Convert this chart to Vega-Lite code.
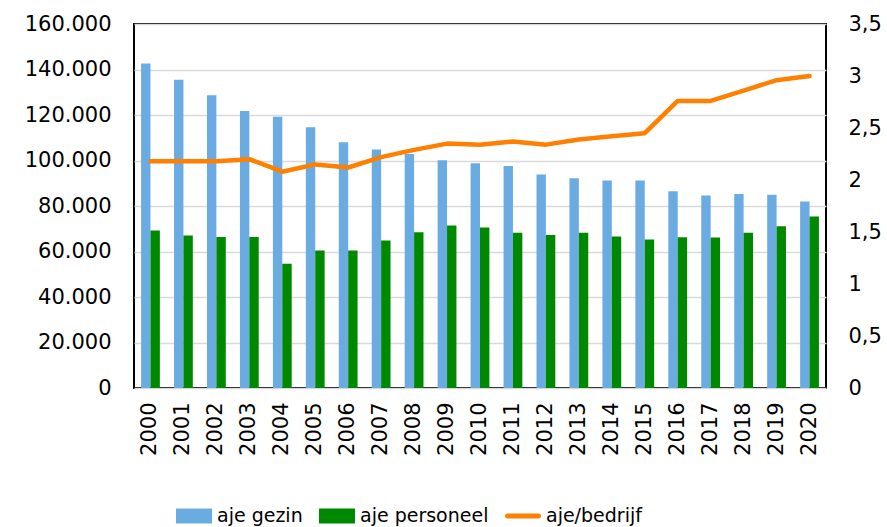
{
  "$schema": "https://vega.github.io/schema/vega-lite/v6.json",
  "width": 692,
  "height": 364,
  "autosize": {"type": "none"},
  "padding": {"left": 134, "top": 24, "right": 61, "bottom": 139},
  "background": "white",
  "config": {
    "locale": {"number": {"decimal": ",", "thousands": ".", "grouping": [3], "currency": ["€", ""]}},
    "font": "DejaVu Sans",
    "view": {"stroke": "#000000", "strokeWidth": 2},
    "axis": {"labelFont": "DejaVu Sans", "labelColor": "#000000", "labelFontSize": 21, "ticks": false, "title": null, "domain": false}
  },
  "data": {
    "values": [
      {"year": "2000", "aje gezin": 142600, "aje personeel": 69200, "bedrijf": 2.18},
      {"year": "2001", "aje gezin": 135500, "aje personeel": 67000, "bedrijf": 2.18},
      {"year": "2002", "aje gezin": 128700, "aje personeel": 66400, "bedrijf": 2.18},
      {"year": "2003", "aje gezin": 121800, "aje personeel": 66400, "bedrijf": 2.2},
      {"year": "2004", "aje gezin": 119200, "aje personeel": 54600, "bedrijf": 2.08},
      {"year": "2005", "aje gezin": 114600, "aje personeel": 60400, "bedrijf": 2.15},
      {"year": "2006", "aje gezin": 108000, "aje personeel": 60400, "bedrijf": 2.12},
      {"year": "2007", "aje gezin": 104800, "aje personeel": 64800, "bedrijf": 2.22},
      {"year": "2008", "aje gezin": 102900, "aje personeel": 68500, "bedrijf": 2.29},
      {"year": "2009", "aje gezin": 100100, "aje personeel": 71400, "bedrijf": 2.35},
      {"year": "2010", "aje gezin": 98800, "aje personeel": 70500, "bedrijf": 2.34},
      {"year": "2011", "aje gezin": 97600, "aje personeel": 68200, "bedrijf": 2.37},
      {"year": "2012", "aje gezin": 93800, "aje personeel": 67300, "bedrijf": 2.34},
      {"year": "2013", "aje gezin": 92200, "aje personeel": 68200, "bedrijf": 2.39},
      {"year": "2014", "aje gezin": 91200, "aje personeel": 66600, "bedrijf": 2.42},
      {"year": "2015", "aje gezin": 91200, "aje personeel": 65300, "bedrijf": 2.45},
      {"year": "2016", "aje gezin": 86500, "aje personeel": 66300, "bedrijf": 2.76},
      {"year": "2017", "aje gezin": 84600, "aje personeel": 66100, "bedrijf": 2.76},
      {"year": "2018", "aje gezin": 85300, "aje personeel": 68200, "bedrijf": 2.86},
      {"year": "2019", "aje gezin": 85000, "aje personeel": 71100, "bedrijf": 2.96},
      {"year": "2020", "aje gezin": 82000, "aje personeel": 75400, "bedrijf": 3.0}
    ]
  },
  "encoding": {
    "x": {
      "field": "year",
      "type": "ordinal",
      "scale": {"paddingInner": 0.43, "paddingOuter": 0.215},
      "axis": {"labelAngle": -90, "labelAlign": "right", "labelBaseline": "middle", "labelPadding": 14, "grid": false}
    }
  },
  "layer": [
    {
      "transform": [{"fold": ["aje gezin", "aje personeel"], "as": ["series", "value"]}],
      "mark": {"type": "bar"},
      "encoding": {
        "xOffset": {"field": "series", "type": "nominal", "scale": {"domain": ["aje gezin", "aje personeel"], "paddingInner": 0, "paddingOuter": 0}},
        "y": {
          "field": "value",
          "type": "quantitative",
          "scale": {"domain": [0, 160000], "nice": false},
          "axis": {"values": [0, 20000, 40000, 60000, 80000, 100000, 120000, 140000, 160000], "format": ",.0f", "labelPadding": 23, "grid": true, "gridColor": "#d9d9d9", "gridWidth": 1.5}
        },
        "color": {
          "field": "series",
          "type": "nominal",
          "scale": {"domain": ["aje gezin", "aje personeel", "aje/bedrijf"], "range": ["#6aace2", "#008800", "#ff7f00"]},
          "legend": {
            "orient": "none",
            "legendX": 42,
            "legendY": 474,
            "direction": "horizontal",
            "title": null,
            "labelFont": "DejaVu Sans",
            "labelFontSize": 19,
            "labelColor": "#000000",
            "symbolSize": 1296,
            "labelOffset": 5,
            "columnPadding": 16,
            "symbolStrokeWidth": 0,
            "encode": {
              "symbols": {
                "update": {
                  "shape": {"signal": "datum.value === 'aje/bedrijf' ? 'M-0.86,-0.14H0.86A0.14,0.14 0 0 1 0.86,0.14H-0.86A0.14,0.14 0 0 1 -0.86,-0.14Z' : 'M-1,-0.42H1V0.42H-1Z'"},
                  "fill": {"signal": "scale('color', datum.value)"},
                  "fillOpacity": {"value": 1},
                  "strokeWidth": {"value": 0}
                }
              }
            }
          }
        }
      }
    },
    {
      "mark": {"type": "line", "strokeWidth": 4.5, "strokeCap": "round", "strokeJoin": "round"},
      "encoding": {
        "y": {
          "field": "bedrijf",
          "type": "quantitative",
          "scale": {"domain": [0, 3.5], "nice": false},
          "axis": {"orient": "right", "values": [0, 0.5, 1, 1.5, 2, 2.5, 3, 3.5], "format": ".1~f", "labelPadding": 22, "grid": false}
        },
        "color": {"datum": "aje/bedrijf"}
      }
    }
  ],
  "resolve": {"scale": {"y": "independent"}}
}
